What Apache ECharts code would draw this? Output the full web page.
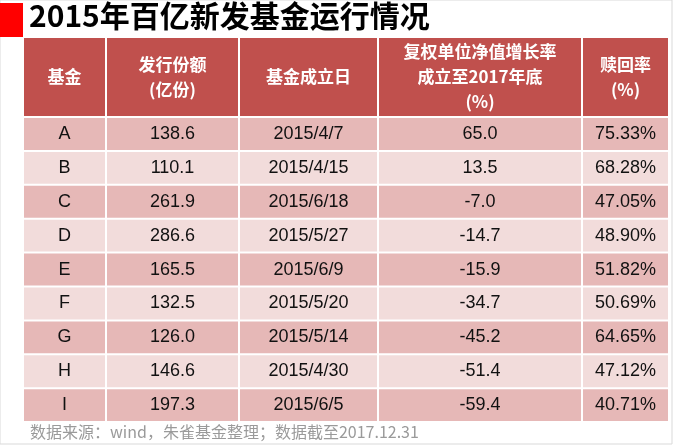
<!DOCTYPE html><html><head><meta charset="utf-8"><script src="https://cdn.jsdelivr.net/npm/echarts@6/dist/echarts.min.js"></script>
<style>html,body{margin:0;padding:0;background:#fff}#c{width:673px;height:445px}</style></head><body><div id="c"></div><script>
const headers=['基金','发行份额\n(亿份)','基金成立日','复权单位净值增长率\n成立至2017年底\n(%)','赎回率\n(%)'];
const funds=['A','B','C','D','E','F','G','H','I'];
const shares=['138.6','110.1','261.9','286.6','165.5','132.5','126.0','146.6','197.3'];
const dates=['2015/4/7','2015/4/15','2015/6/18','2015/5/27','2015/6/9','2015/5/20','2015/5/14','2015/4/30','2015/6/5'];
const growth=['65.0','13.5','-7.0','-14.7','-15.9','-34.7','-45.2','-51.4','-59.4'];
const redemption=['75.33%','68.28%','47.05%','48.90%','51.82%','50.69%','64.65%','47.12%','40.71%'];
const title='2015年百亿新发基金运行情况';
const footnote='数据来源：wind，朱雀基金整理；数据截至2017.12.31';

const colX=[23,106,239,378,582,669];
const headTop=37, headBot=116, rowTop=117, rowH=33.9;
const cols=[funds,shares,dates,growth,redemption];
const data=[];
headers.forEach((h,c)=>data.push([c,-1,h]));
for(let r=0;r<funds.length;r++)for(let c=0;c<5;c++)data.push([c,r,cols[c][r]]);
const chart=echarts.init(document.getElementById('c'),null,{renderer:'canvas'});
chart.setOption({
 animation:false,
 xAxis:{type:'value',show:false,min:0,max:673},
 yAxis:{type:'value',show:false,min:0,max:445,inverse:true},
 grid:{left:0,right:0,top:0,bottom:0},
 graphic:[
  {type:'rect',shape:{x:0,y:0,width:672,height:444},style:{fill:'none',stroke:'#d9d9d9',lineWidth:1}},
  {type:'rect',shape:{x:0,y:3,width:23,height:34},style:{fill:'#ff0000'}},
  {type:'text',left:29,top:1,style:{text:title,font:'bold 30px "Noto Sans CJK SC"',fill:'#000'}},
  {type:'text',left:30,top:424,style:{text:footnote,font:'16px "Noto Sans CJK SC"',fill:'#9a9a9a'}}
 ],
 series:[{type:'custom',coordinateSystem:'cartesian2d',data:data,encode:{x:0,y:1},
  renderItem:function(params,api){
   const c=api.value(0),r=api.value(1);const txt=data[params.dataIndex][2];
   const x0=colX[c]+1,x1=colX[c+1]-1;
   let y0,y1,fill,color,font;
   if(r<0){y0=headTop+1;y1=headBot;fill='#c0504d';color='#fff';font='bold 17px "Noto Sans CJK SC"';}
   else{y0=rowTop+r*rowH+1;y1=rowTop+(r+1)*rowH-1;fill=r%2===0?'#e6b8b7':'#f2dcdb';color='#111';font='18px "Liberation Sans"';}
   const p0=api.coord([x0,y0]),p1=api.coord([x1,y1]);
   return {type:'group',children:[
    {type:'rect',shape:{x:p0[0],y:p0[1],width:p1[0]-p0[0],height:p1[1]-p0[1]},style:{fill:fill}},
    {type:'text',style:{text:txt,x:(p0[0]+p1[0])/2,y:(p0[1]+p1[1])/2,align:'center',verticalAlign:'middle',font:font,fill:color,lineHeight:r<0?25:20}}
   ]};
  }}]
});
</script></body></html>
